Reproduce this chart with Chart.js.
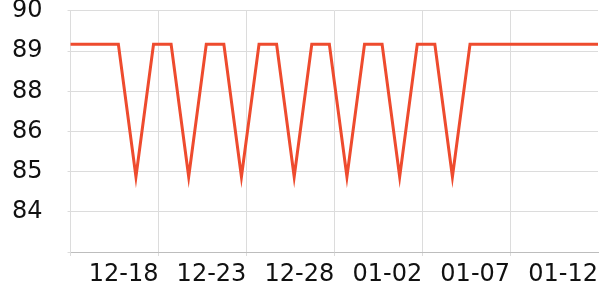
<!DOCTYPE html>
<html>
<head>
<meta charset="utf-8">
<script src="https://cdn.jsdelivr.net/npm/chart.js@4"></script>
<style>
  html, body { margin: 0; padding: 0; background: #fff; }
  #wrap { width: 600px; height: 300px; }
</style>
</head>
<body>
<div id="wrap"><canvas id="lineChart"></canvas></div>
<script>
// one reading per day, starting the evening before the first tick (12-12)
const values = [89, 89, 89, 89, 85.05, 89, 89, 85.05, 89, 89, 85.05, 89, 89, 85.05, 89, 89,
  85.05, 89, 89, 85.05, 89, 89, 85.05, 89, 89, 89, 89, 89, 89, 89, 89, 89];
const firstDay = -1;      // days relative to 12-13
const readingHour = 0.72; // time of day of each reading
const xTickLabels = ['', '12-18', '12-23', '12-28', '01-02', '01-07', '01-12'];
const yTicks = { min: 82.8, max: 90, step: 1.2 };

const points = values.map((v, i) => ({ x: firstDay + i + readingHour, y: v }));

const gridGray = '#dcdcdc';

new Chart(document.getElementById('lineChart'), {
  type: 'line',
  data: {
    datasets: [{
      data: points,
      borderColor: '#ee4b2e',
      borderWidth: 3,
      pointRadius: 0,
      tension: 0,
      fill: false
    }]
  },
  options: {
    responsive: true,
    maintainAspectRatio: false,
    animation: false,
    layout: { padding: { left: 12, right: 2, top: 0, bottom: 11 } },
    plugins: { legend: { display: false }, tooltip: { enabled: false } },
    scales: {
      x: {
        type: 'linear',
        min: 0,
        max: 30,
        grid: {
          color: (c) => c.index === xTickLabels.length - 1 ? 'rgba(0,0,0,0)' : gridGray,
          tickLength: 8,
          tickBorderDash: [3, 60]
        },
        border: { color: '#bdbdbd' },
        ticks: {
          stepSize: 5,
          align: 'end',
          padding: 0,
          maxRotation: 0,
          color: '#111',
          font: { family: 'DejaVu Sans', size: 24 },
          callback: (v, i) => xTickLabels[i]
        }
      },
      y: {
        min: yTicks.min,
        max: yTicks.max,
        grid: { color: gridGray, tickLength: 28, tickBorderDash: [0, 25, 3, 100] },
        border: { color: gridGray },
        ticks: {
          stepSize: yTicks.step,
          padding: 0,
          color: '#111',
          font: { family: 'DejaVu Sans', size: 24, lineHeight: 0.9 },
          callback: (v, i) => i === 0 ? '' : Math.round(v)
        }
      }
    }
  }
});
</script>
</body>
</html>
